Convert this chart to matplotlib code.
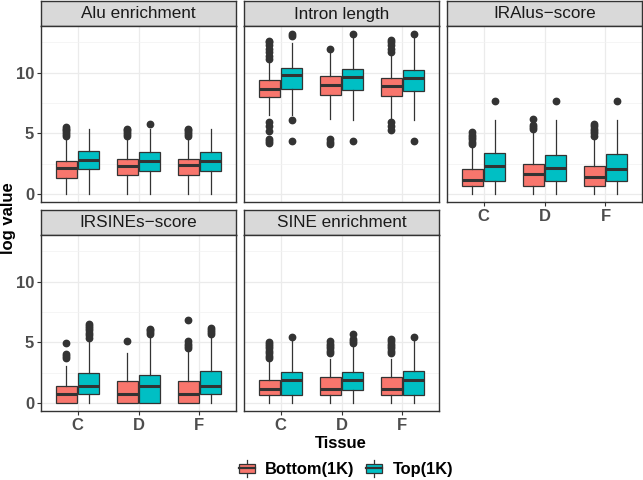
import numpy as np
import matplotlib.pyplot as plt
from matplotlib.legend_handler import HandlerBase
from matplotlib.patches import Rectangle
from matplotlib.lines import Line2D

plt.rcParams['font.family'] = ['Liberation Sans', 'DejaVu Sans']

# facets / categories
facets = ["Alu enrichment", "Intron length", "IRAlus\u2212score",
          "IRSINEs\u2212score", "SINE enrichment"]
tissues = ["C", "D", "F"]
groups = ["Bottom(1K)", "Top(1K)"]
colors = ["#F8766D", "#00BFC4"]

# box stats, rows = facets, cols = tissues C, D, F
bot_lo = [[0, 0, 0], [6.54, 6.18, 6.13], [0, 0, 0], [0, 0, 0], [0, 0, 0]]
bot_q1 = [[1.32, 1.54, 1.54], [8.00, 8.19, 8.10], [0.63, 0.63, 0.63], [0, 0, 0], [0.69, 0.69, 0.69]]
bot_med = [[2.14, 2.34, 2.36], [8.68, 9.01, 8.90], [1.13, 1.62, 1.43], [0.77, 0.77, 0.77], [1.15, 1.15, 1.15]]
bot_q3 = [[2.69, 2.88, 2.86], [9.40, 9.73, 9.59], [2.06, 2.47, 2.34], [1.40, 1.81, 1.81], [1.92, 2.12, 2.12]]
bot_hi = [[4.65, 4.70, 4.65], [10.93, 11.60, 11.60], [3.95, 5.16, 4.70], [3.08, 4.09, 4.45], [3.63, 3.63, 3.63]]
bot_fliers = [
    [[4.8, 4.95, 5.1, 5.25, 5.4, 5.5], [4.8, 4.95, 5.1, 5.25, 5.4], [4.8, 4.95, 5.1, 5.25, 5.35]],
    [[11.1, 11.4, 11.7, 12.0, 12.3, 12.5, 12.66, 5.9, 5.58, 5.22, 4.53, 4.4, 4.2],
     [12.0, 4.5, 4.3, 4.15],
     [11.75, 12.0, 12.3, 12.5, 12.7, 5.9, 5.6, 5.25]],
    [[4.1, 4.3, 4.5, 4.7, 4.9, 5.08], [5.36, 5.5, 5.66, 6.18], [4.8, 5.0, 5.2, 5.4, 5.6, 5.77]],
    [[3.71, 3.85, 4.04, 4.95], [5.08], [4.5, 4.7, 4.9, 5.1, 6.87]],
    [[3.7, 3.9, 4.1, 4.3, 4.5, 4.7, 4.9, 5.05], [4.1, 4.3, 4.5, 4.7, 4.9, 5.1], [4.1, 4.3, 4.5, 4.7, 4.9, 5.1, 5.27]],
]

top_lo = [[0, 0, 0], [6.54, 6.13, 6.13], [0, 0, 0], [0, 0, 0], [0, 0, 0]]
top_q1 = [[2.06, 1.87, 1.87], [8.68, 8.54, 8.52], [1.04, 1.04, 1.04], [0.71, 0, 0.71], [0.69, 1.10, 0.69]]
top_med = [[2.77, 2.69, 2.75], [9.81, 9.67, 9.53], [2.34, 2.12, 2.09], [1.43, 1.43, 1.43], [1.92, 1.90, 1.87]]
top_q3 = [[3.52, 3.43, 3.49], [10.38, 10.33, 10.25], [3.41, 3.21, 3.27], [2.50, 2.34, 2.66], [2.58, 2.53, 2.61]]
top_hi = [[5.36, 5.36, 5.36], [12.45, 12.86, 12.86], [6.13, 6.13, 6.13], [5.27, 5.33, 5.50], [5.14, 4.73, 5.14]]
top_fliers = [
    [[], [5.8], []],
    [[13.0, 13.2, 6.13, 4.34], [13.2, 4.34], [13.16, 4.37]],
    [[7.69], [7.69], [7.69]],
    [[5.4, 5.6, 5.8, 6.0, 6.2, 6.35, 6.5], [5.7, 5.85, 6.0, 6.1], [5.7, 5.85, 6.0, 6.18]],
    [[5.44], [4.95, 5.1, 5.3, 5.7], [5.44]],
]

W, H = 643, 480
fig = plt.figure(figsize=(W / 100, H / 100), dpi=100)


def px(x0, y0, w, h):
    # pixel box (top-left origin) -> figure fraction
    return [x0 / W, 1 - (y0 + h) / H, w / W, h / H]


col_x = [41, 244, 447]
row_y = [1, 210]
pw, strip_h, ph = 195, 25, 176
dark = "#333333"
xlab_facets = {2, 3, 4}

for i, name in enumerate(facets):
    r, c = divmod(i, 3)
    sax = fig.add_axes(px(col_x[c], row_y[r], pw, strip_h))
    sax.set_facecolor("#D9D9D9")
    sax.set_xticks([])
    sax.set_yticks([])
    for s in sax.spines.values():
        s.set_color(dark)
        s.set_linewidth(1.0)
    sax.text(0.5, 0.48, name, ha="center", va="center", fontsize=12.3,
             color="#1A1A1A", transform=sax.transAxes)

    ax = fig.add_axes(px(col_x[c], row_y[r] + strip_h, pw, ph))
    pos = np.arange(1, 4)
    for g, (lo, q1, med, q3, hi, fl) in enumerate([
            (bot_lo, bot_q1, bot_med, bot_q3, bot_hi, bot_fliers),
            (top_lo, top_q1, top_med, top_q3, top_hi, top_fliers)]):
        stats = [dict(whislo=lo[i][k], q1=q1[i][k], med=med[i][k], q3=q3[i][k],
                      whishi=hi[i][k], fliers=fl[i][k]) for k in range(3)]
        ax.bxp(stats, positions=pos + (g - 0.5) * 0.372, widths=0.344,
               patch_artist=True, showcaps=False, manage_ticks=False,
               boxprops=dict(facecolor=colors[g], edgecolor=dark, linewidth=0.9),
               medianprops=dict(color=dark, linewidth=2.2),
               whiskerprops=dict(color=dark, linewidth=0.9),
               flierprops=dict(marker="o", markerfacecolor=dark,
                               markeredgecolor=dark, markersize=4.6))

    ax.set_xlim(0.4, 3.6)
    ax.set_ylim(-0.66, 13.86)
    ax.set_xticks(pos)
    ax.set_yticks([0, 5, 10])
    ax.set_yticks([2.5, 7.5, 12.5], minor=True)
    ax.grid(True, which="major", color="#EBEBEB", linewidth=0.9)
    ax.grid(True, which="minor", axis="y", color="#F2F2F2", linewidth=0.5)
    ax.set_axisbelow(True)
    for s in ax.spines.values():
        s.set_color(dark)
        s.set_linewidth(1.0)
    ax.tick_params(which="minor", length=0)
    ax.tick_params(axis="both", colors=dark, labelcolor="#4D4D4D",
                   labelsize=12, length=3, width=0.8, pad=2)
    if c == 0:
        ax.set_yticklabels(["0", "5", "10"], fontweight="bold")
    else:
        ax.tick_params(axis="y", length=0, labelleft=False)
    if i in xlab_facets:
        ax.set_xticklabels(tissues, fontweight="bold")
    else:
        ax.tick_params(axis="x", length=0, labelbottom=False)

fig.text(341 / W, 1 - 443 / H, "Tissue", ha="center", va="center",
         fontsize=12, fontweight="bold")
fig.text(9 / W, 1 - 218 / H, "log value", ha="center", va="center",
         rotation=90, fontsize=12, fontweight="bold")


class BoxKey(HandlerBase):
    def create_artists(self, legend, orig, xd, yd, width, height, fontsize, trans):
        x0, y0 = -xd, -yd
        cx = x0 + width / 2
        vline = Line2D([cx, cx], [y0 - 0.1 * height, y0 + 1.1 * height], color=dark, lw=0.9)
        box = Rectangle((x0, y0 + 0.2 * height), width, 0.6 * height,
                        facecolor=orig.get_facecolor(), edgecolor=dark, lw=0.9)
        med = Line2D([x0, x0 + width], [y0 + 0.5 * height] * 2, color=dark, lw=1.6)
        arts = [vline, box, med]
        for a in arts:
            a.set_transform(trans)
        return arts


handles = [Rectangle((0, 0), 1, 1, facecolor=col) for col in colors]
leg = fig.legend(handles, groups, loc="center", bbox_to_anchor=(346 / W, 1 - 469 / H),
                 ncol=2, frameon=False, handler_map={Rectangle: BoxKey()},
                 handlelength=0.95, handleheight=1.0, handletextpad=0.65,
                 columnspacing=0.7, prop=dict(size=11.8, weight="bold"))

fig.savefig("out.png", dpi=100)
